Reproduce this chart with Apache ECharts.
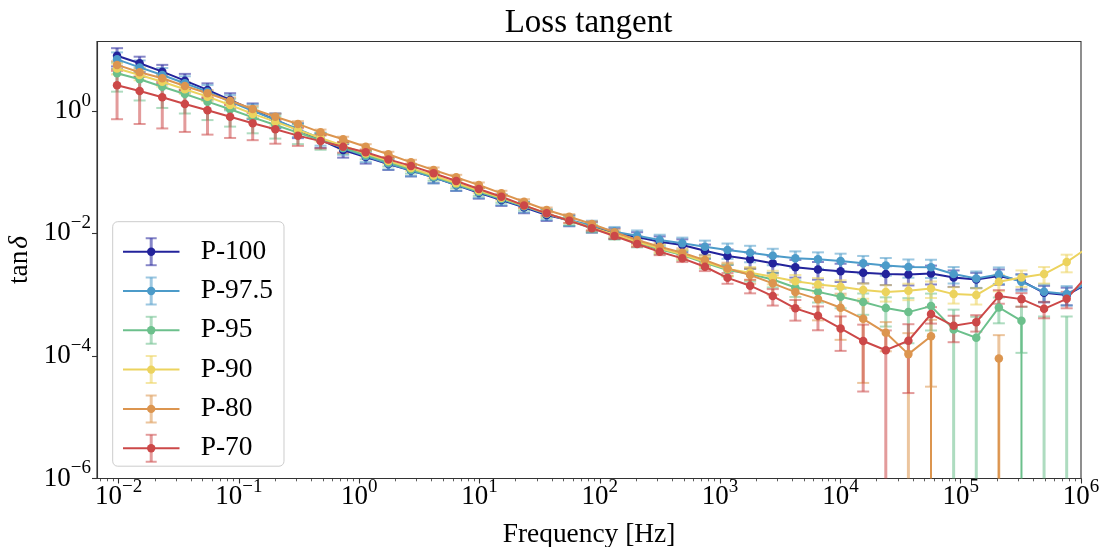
<!DOCTYPE html>
<html><head><meta charset="utf-8">
<script src="https://cdn.jsdelivr.net/npm/echarts@6/dist/echarts.min.js"></script>
<style>html,body{margin:0;padding:0;background:#fff}#c{width:1106px;height:547px}</style>
</head><body><div id="c"></div>
<script>
// ---------- data ----------
const freq = [0.009716,0.01497,0.02309,0.03558,0.05486,0.08457,0.1303,0.2010,0.3097,0.4775,
  0.7360,1.134,1.749,2.696,4.156,6.408,9.874,15.22,23.47,36.17,
  55.76,85.97,132.5,204.3,314.9,485.3,748.2,1153,1777,2741,
  4224,6511,10040,15470,23850,36760,56670,87360,134700,207600,
  320000,493200,760300,1172000];

const seriesNames = ['P-100','P-97.5','P-95','P-90','P-80','P-70'];

const p100 = [7.9,5.96,4.35,3.1,2.19,1.50,1.03,0.71,0.49,0.335,
  0.229,0.176,0.135,0.106,0.082,0.0615,0.046,0.035,0.0266,0.0199,
  0.0163,0.0128,0.0101,0.0087,0.0073,0.00644,0.0052,0.00426,0.00377,0.00324,
  0.00279,0.00258,0.0024,0.00228,0.00217,0.00214,0.00222,0.00191,0.00177,0.00201,
  0.00168,0.00107,0.000984,0.00157];
const p975 = [6.9,5.1,3.84,2.81,2.05,1.41,1.0,0.71,0.50,0.355,
  0.245,0.182,0.138,0.107,0.082,0.062,0.047,0.036,0.0275,0.0207,
  0.0165,0.0134,0.0106,0.00914,0.00778,0.00687,0.00604,0.00533,0.00482,0.00431,
  0.00391,0.00377,0.00353,0.00324,0.0030,0.00282,0.00279,0.00217,0.00184,0.00214,
  0.00162,0.00111,0.00102,0.0016];
const p95 = [4.1,3.27,2.47,1.88,1.41,1.06,0.78,0.586,0.44,0.33,
  0.25,0.19,0.145,0.111,0.085,0.064,0.048,0.037,0.028,0.021,
  0.016,0.0122,0.0093,0.00703,0.00548,0.00442,0.00331,0.00252,0.00216,0.00177,
  0.00131,0.00111,0.000923,0.000756,0.000603,0.000519,0.00065,0.000271,0.000198,0.000619,
  0.000374,-0.0001,-0.0001,-0.0001];
const p90 = [4.9,3.84,2.98,2.24,1.70,1.24,0.89,0.665,0.486,0.36,
  0.27,0.2,0.152,0.116,0.088,0.066,0.05,0.038,0.0285,0.0212,
  0.0163,0.0124,0.0096,0.0073,0.00569,0.00454,0.00344,0.00261,0.00228,0.00196,
  0.00166,0.00147,0.00134,0.00119,0.0011,0.00116,0.00126,0.00102,0.000984,0.00162,
  0.00191,0.00217,0.0034,0.00607];
const p80 = [5.6,4.25,3.39,2.54,1.93,1.46,1.07,0.80,0.61,0.445,
  0.343,0.259,0.195,0.144,0.108,0.082,0.0615,0.045,0.0328,0.024,
  0.0187,0.0142,0.0104,0.00778,0.00604,0.00482,0.00366,0.00268,0.00209,0.00153,
  0.0011,0.000845,0.00061,0.000403,0.000238,0.000107,0.00021,-0.0002,-0.0002,0.000091,
  -0.0002,-0.0002,-0.0002,-0.0002];
const p70 = [2.6,2.1,1.66,1.29,1.02,0.80,0.625,0.50,0.393,0.32,
  0.259,0.21,0.161,0.126,0.0955,0.0714,0.0529,0.0396,0.0286,0.0212,
  0.0161,0.0121,0.00904,0.00669,0.00501,0.00391,0.00285,0.00188,0.0014,0.000947,
  0.000597,0.000452,0.000281,0.000175,0.000124,0.000177,0.000481,0.00031,0.000356,0.000947,
  0.000845,0.000587,0.000855,0.00222];

// relative error (error / |value|)
const p100Err = [.33,.28,.29,.29,.28,.29,.28,.27,.27,.26,.25,.22,.2,.2,.2,.2,.2,.2,.2,.2,.2,.2,.2,.2,.22,.24,.26,.28,.3,.3,.32,.32,.33,.33,.34,.34,.34,.3,.28,.28,.28,.3,.32,.32];
const p975Err = [.3,.3,.3,.3,.28,.28,.27,.26,.25,.24,.22,.2,.2,.2,.2,.2,.2,.2,.2,.2,.2,.2,.2,.22,.22,.24,.26,.28,.3,.3,.3,.3,.32,.32,.32,.33,.33,.3,.3,.3,.3,.32,.35,.35];
const p95Err = [.5,.55,.55,.52,.5,.48,.45,.4,.35,.3,.2,.15,.15,.15,.15,.15,.15,.15,.15,.15,.15,.15,.15,.16,.17,.18,.2,.22,.24,.26,.3,.33,.35,.38,.5,.69,.6,1.1,1.2,.45,.7,5.4,5.4,5];
const p90Err = [.2,.18,.17,.16,.15,.15,.14,.13,.12,.12,.1,.1,.1,.1,.1,.1,.1,.1,.1,.1,.1,.1,.12,.14,.16,.18,.2,.22,.24,.25,.26,.27,.28,.28,.3,.3,.3,.3,.3,.3,.3,.3,.32,.32];
const p80Err = [.15,.15,.14,.14,.13,.13,.12,.12,.11,.11,.1,.1,.1,.1,.1,.1,.1,.1,.1,.1,.1,.1,.12,.14,.16,.18,.2,.24,.28,.35,.45,.55,.7,.91,.5,1.2,.85,.5,.5,1.4,.5,.5,.5,.5];
const p70Err = [.72,.71,.69,.65,.6,.55,.47,.42,.32,.24,.2,.1,.08,.08,.08,.08,.08,.08,.08,.08,.08,.08,.1,.1,.12,.13,.15,.2,.25,.3,.37,.42,.57,.85,1.1,.86,.3,.46,.3,.25,.25,.3,.3,.3];

const xTickValues = [0.01,0.1,1,10,100,1000,10000,100000,1000000];
const yTickValues = [1e-6,1e-4,1e-2,1];

// ---------- styling ----------
const FONT = 'Liberation Serif';
const colors = ['#23239b','#4c9bc9','#6cc08c','#ecd35e','#dc954f','#cc4848'];
const values = [p100,p975,p95,p90,p80,p70];
const rels = [p100Err,p975Err,p95Err,p90Err,p80Err,p70Err];
const XMIN = 0.00662, XMAX = 1e6, YMIN = 1e-6, YMAX = 13.5;

const minorX = [];
for (let d = -3; d < 6; d++) for (let m = 2; m <= 9; m++) {
  const v = m * Math.pow(10, d);
  if (v > XMIN && v < XMAX) minorX.push(v);
}

function supLabel(v) {
  const e = Math.round(Math.log10(v));
  return '{b|10}{s|' + (e < 0 ? '\u2212' + (-e) : String(e)) + '}';
}
const rich = {
  b: {fontFamily: FONT, fontSize: 27, color: '#000', lineHeight: 27, verticalAlign: 'middle'},
  s: {fontFamily: FONT, fontSize: 19, color: '#000', lineHeight: 19, padding: [0, 0, 20, 0], verticalAlign: 'middle'}
};

function legendIcon(col) {
  const svg = '<svg xmlns="http://www.w3.org/2000/svg" width="57" height="30" viewBox="0 0 57 30">' +
    '<line x1="0" y1="15" x2="57" y2="15" stroke="' + col + '" stroke-width="2"/>' +
    '<g stroke="' + col + '" stroke-opacity="0.55" stroke-width="3">' +
    '<line x1="28.5" y1="1.5" x2="28.5" y2="28.5"/>' +
    '<line x1="23" y1="1.5" x2="34" y2="1.5" stroke-width="2"/>' +
    '<line x1="23" y1="28.5" x2="34" y2="28.5" stroke-width="2"/></g>' +
    '<circle cx="28.5" cy="15" r="4.2" fill="' + col + '"/></svg>';
  return 'image://data:image/svg+xml;charset=utf-8,' + encodeURIComponent(svg);
}

function errSeries(k) {
  const vals = values[k], rel = rels[k], col = colors[k];
  const data = freq.map((f, i) => [f, vals[i], Math.abs(vals[i]) * rel[i], i]);
  return {
    type: 'custom', name: seriesNames[k] + ' err', xAxisIndex: 0, yAxisIndex: 0,
    silent: true, animation: false,
    renderItem: function (params, api) {
      const cs = params.coordSys;
      const f = api.value(0), v = api.value(1), e = api.value(2), i = api.value(3);
      const top = cs.y, bottom = cs.y + cs.height;
      const xc = api.coord([f, 1])[0];
      const children = [];
      if (xc < cs.x - 0.5 || xc > cs.x + cs.width + 0.5) return {type: 'group', children: children};
      const hi = v + e, lo = v - e;
      if (hi > YMIN) {
        const yHi = hi >= YMAX ? top : api.coord([f, hi])[1];
        const yLo = lo <= YMIN ? bottom : api.coord([f, lo])[1];
        const st = {stroke: col, lineWidth: 3, opacity: 0.55};
        children.push({type: 'line', shape: {x1: xc, y1: yLo, x2: xc, y2: yHi}, style: st});
        const cst = {stroke: col, lineWidth: 2, opacity: 0.55};
        if (hi < YMAX) children.push({type: 'line', shape: {x1: xc - 6, y1: yHi, x2: xc + 6, y2: yHi}, style: cst});
        if (lo > YMIN) children.push({type: 'line', shape: {x1: xc - 6, y1: yLo, x2: xc + 6, y2: yLo}, style: cst});
      }
      if (v > 0) {
        const prev = vals[i - 1], next = vals[i + 1];
        if ((next !== undefined && next <= 0) || (prev !== undefined && prev <= 0)) {
          children.push({type: 'line', shape: {x1: xc, y1: api.coord([f, v])[1], x2: xc, y2: bottom},
            style: {stroke: col, lineWidth: 2}});
        }
      }
      return {type: 'group', children: children};
    },
    data: data
  };
}

function lineSeries(k) {
  const vals = values[k], col = colors[k];
  return {
    type: 'line', name: seriesNames[k], xAxisIndex: 0, yAxisIndex: 0,
    data: freq.map((f, i) => [f, vals[i] > 0 ? vals[i] : null]),
    symbol: 'circle', symbolSize: 8.5, showSymbol: true,
    lineStyle: {color: col, width: 2}, itemStyle: {color: col},
    animation: false, silent: true, clip: true, emphasis: {disabled: true}
  };
}

const series = [];
for (let k = 0; k < seriesNames.length; k++) { series.push(errSeries(k)); series.push(lineSeries(k)); }

const axisCol = '#333';
const option = {
  backgroundColor: '#fff',
  animation: false,
  title: {
    text: 'Loss tangent', left: 588.5, top: 7, textAlign: 'center', padding: 0,
    textStyle: {fontFamily: FONT, fontSize: 33, fontWeight: 'normal', color: '#000'}
  },
  grid: {left: 97, right: 25, top: 41.5, bottom: 68.5, show: true, borderColor: axisCol, borderWidth: 1.1,
    outerBoundsMode: 'none'},
  legend: {
    orient: 'vertical', left: 112.7, top: 221.7, padding: [15, 11, 3, 10],
    itemWidth: 57, itemHeight: 30, itemGap: 9.3,
    backgroundColor: 'rgba(255,255,255,0.8)', borderColor: '#cccccc', borderWidth: 1, borderRadius: 5,
    textStyle: {fontFamily: FONT, fontSize: 27.4, color: '#000', padding: [0, 0, 0, 16]},
    selectedMode: false,
    data: seriesNames.map((n, k) => ({name: n, icon: legendIcon(colors[k])}))
  },
  xAxis: [{
    type: 'log', min: XMIN, max: XMAX, position: 'bottom',
    axisLine: {show: true, lineStyle: {color: axisCol, width: 1.1}},
    axisTick: {show: true, customValues: xTickValues, length: 5, lineStyle: {color: axisCol, width: 1.1}},
    axisLabel: {customValues: xTickValues, formatter: supLabel, rich: rich, margin: 5},
    splitLine: {show: false}, minorTick: {show: false},
    name: 'Frequency [Hz]', nameLocation: 'middle', nameGap: 40,
    nameTextStyle: {fontFamily: FONT, fontSize: 27.4, color: '#000'}
  }, {
    type: 'log', min: XMIN, max: XMAX, position: 'bottom',
    axisLine: {show: false}, axisLabel: {show: false}, splitLine: {show: false},
    axisTick: {show: true, customValues: minorX, length: 2.8, lineStyle: {color: axisCol, width: 0.8}}
  }],
  yAxis: [{
    type: 'log', min: YMIN, max: YMAX, position: 'left',
    axisLine: {show: true, lineStyle: {color: axisCol, width: 1.1}},
    axisTick: {show: true, customValues: yTickValues, length: 5, lineStyle: {color: axisCol, width: 1.1}},
    axisLabel: {customValues: yTickValues, formatter: supLabel, rich: rich, margin: 6},
    splitLine: {show: false},
    name: '{a|tan}{d|\u03b4}', nameLocation: 'middle', nameRotate: 90, nameGap: 54,
    nameTextStyle: {rich: {
      a: {fontFamily: FONT, fontSize: 27.4, color: '#000'},
      d: {fontFamily: FONT, fontStyle: 'italic', fontSize: 27.4, color: '#000', padding: [0, 0, 0, 2]}
    }}
  }],
  series: series
};

const chart = echarts.init(document.getElementById('c'), null, {renderer: 'canvas'});
chart.setOption(option);
</script>
</body></html>
